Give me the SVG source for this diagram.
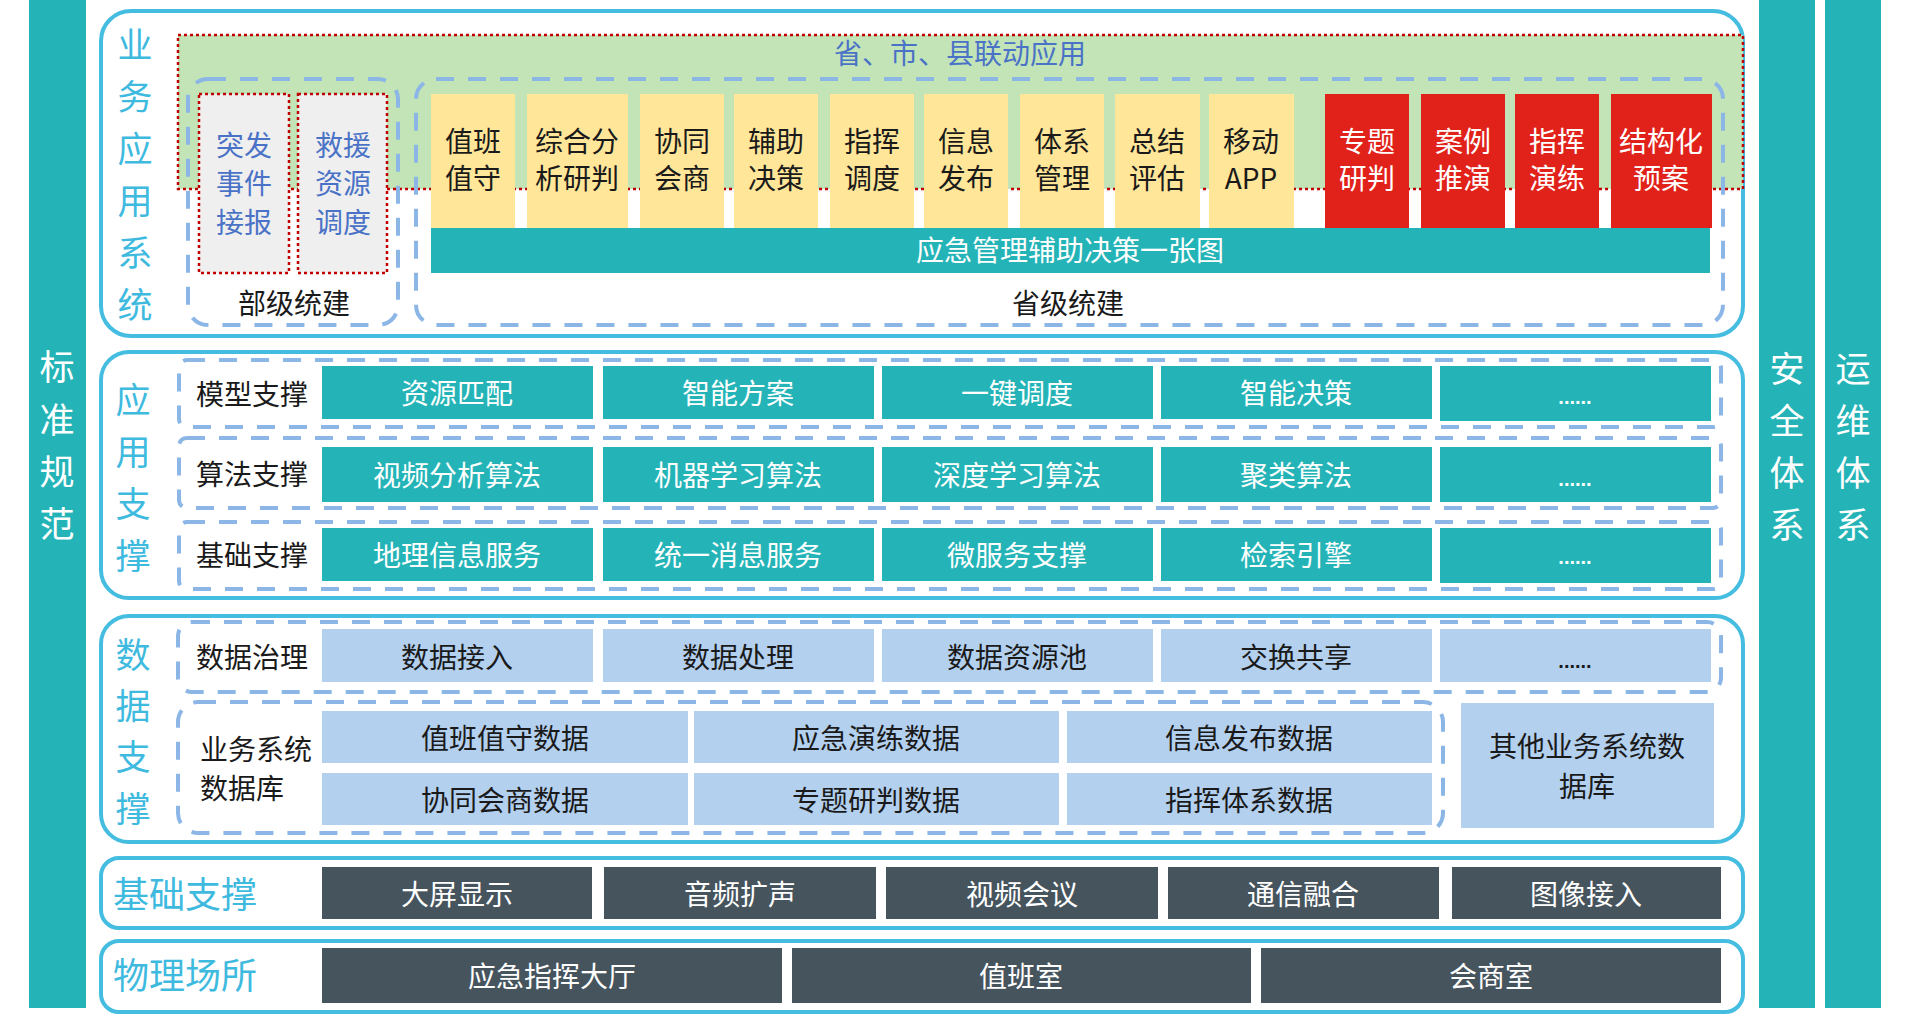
<svg xmlns="http://www.w3.org/2000/svg" width="1914" height="1026" viewBox="0 0 1914 1026">
<style>
.pn{fill:#fff;stroke:#45bde0;stroke-width:4}
.ds{fill:none;stroke:#8cb6e6;stroke-width:4;stroke-dasharray:18 14}
.rd{stroke:#c00000;stroke-width:2.5;stroke-dasharray:3 3}
.teal{fill:#24b4b7}
.yel{fill:#ffe699}
.red{fill:#e1221b}
.lb{fill:#b3d0ef}
.dk{fill:#46545e}
.gr{fill:#efefef}
.t{font-family:"Noto Sans CJK SC","Noto Sans",sans-serif;text-anchor:middle;dominant-baseline:central;font-size:28px}
.w{fill:#fff}
.k{fill:#1a1a1a}
.c{fill:#3fbadf}
.b{fill:#4a72c6}
.v{font-size:35px}
.h{font-size:36px}
.dot{font-family:"Liberation Sans",sans-serif;font-size:20px;text-anchor:middle;font-weight:bold}
</style>
<rect width="1914" height="1026" fill="#fff"/>

<g id="side-standard">
<rect class="teal" x="29" y="0" width="57" height="1008"/>
<text class="t w v"><tspan x="57" y="364">标</tspan><tspan x="57" y="417">准</tspan><tspan x="57" y="469">规</tspan><tspan x="57" y="521">范</tspan></text>
</g>
<g id="side-security">
<rect class="teal" x="1759" y="0" width="56" height="1008"/>
<text class="t w v"><tspan x="1787" y="366">安</tspan><tspan x="1787" y="418">全</tspan><tspan x="1787" y="470">体</tspan><tspan x="1787" y="522">系</tspan></text>
</g>
<g id="side-ops">
<rect class="teal" x="1825" y="0" width="56" height="1008"/>
<text class="t w v"><tspan x="1853" y="366">运</tspan><tspan x="1853" y="418">维</tspan><tspan x="1853" y="470">体</tspan><tspan x="1853" y="522">系</tspan></text>
</g>

<g id="layer-business">
<rect class="pn" x="101" y="11" width="1642" height="325" rx="30"/>
<text class="t c v"><tspan x="135" y="42">业</tspan><tspan x="135" y="94">务</tspan><tspan x="135" y="146">应</tspan><tspan x="135" y="198">用</tspan><tspan x="135" y="250">系</tspan><tspan x="135" y="302">统</tspan></text>
<rect x="178" y="35" width="1565" height="154" fill="#c3e4b7" class="rd"/>
<text class="t b" x="960" y="52">省、市、县联动应用</text>
<rect class="ds" x="188" y="79" width="210" height="246" rx="20"/>
<rect class="ds" x="416" y="79" width="1307" height="246" rx="20"/>
<g id="n-tufa"><rect class="gr rd" x="199" y="94" width="90" height="179"/><text class="t b"><tspan x="244" y="144">突发</tspan><tspan x="244" y="182">事件</tspan><tspan x="244" y="221">接报</tspan></text></g>
<g id="n-jiuyuan"><rect class="gr rd" x="298" y="94" width="89" height="179"/><text class="t b"><tspan x="343" y="144">救援</tspan><tspan x="343" y="182">资源</tspan><tspan x="343" y="221">调度</tspan></text></g>
<text class="t k" x="294" y="302">部级统建</text>
<g id="n-zhiban"><rect class="yel" x="431" y="94" width="84" height="134"/><text class="t k"><tspan x="473" y="140">值班</tspan><tspan x="473" y="177">值守</tspan></text></g>
<g id="n-zonghe"><rect class="yel" x="527" y="94" width="101" height="134"/><text class="t k"><tspan x="577" y="140">综合分</tspan><tspan x="577" y="177">析研判</tspan></text></g>
<g id="n-xietong"><rect class="yel" x="640" y="94" width="84" height="134"/><text class="t k"><tspan x="682" y="140">协同</tspan><tspan x="682" y="177">会商</tspan></text></g>
<g id="n-fuzhu"><rect class="yel" x="734" y="94" width="84" height="134"/><text class="t k"><tspan x="776" y="140">辅助</tspan><tspan x="776" y="177">决策</tspan></text></g>
<g id="n-zhihui"><rect class="yel" x="830" y="94" width="84" height="134"/><text class="t k"><tspan x="872" y="140">指挥</tspan><tspan x="872" y="177">调度</tspan></text></g>
<g id="n-xinxi"><rect class="yel" x="924" y="94" width="84" height="134"/><text class="t k"><tspan x="966" y="140">信息</tspan><tspan x="966" y="177">发布</tspan></text></g>
<g id="n-tixi"><rect class="yel" x="1020" y="94" width="84" height="134"/><text class="t k"><tspan x="1062" y="140">体系</tspan><tspan x="1062" y="177">管理</tspan></text></g>
<g id="n-zongjie"><rect class="yel" x="1115" y="94" width="85" height="134"/><text class="t k"><tspan x="1157" y="140">总结</tspan><tspan x="1157" y="177">评估</tspan></text></g>
<g id="n-app"><rect class="yel" x="1209" y="94" width="85" height="134"/><text class="t k"><tspan x="1251" y="140">移动</tspan><tspan x="1251" y="177">APP</tspan></text></g>
<g id="n-zhuanti"><rect class="red" x="1325" y="94" width="84" height="134"/><text class="t w"><tspan x="1367" y="140">专题</tspan><tspan x="1367" y="177">研判</tspan></text></g>
<g id="n-anli"><rect class="red" x="1421" y="94" width="84" height="134"/><text class="t w"><tspan x="1463" y="140">案例</tspan><tspan x="1463" y="177">推演</tspan></text></g>
<g id="n-yanlian"><rect class="red" x="1515" y="94" width="84" height="134"/><text class="t w"><tspan x="1557" y="140">指挥</tspan><tspan x="1557" y="177">演练</tspan></text></g>
<g id="n-yuan"><rect class="red" x="1611" y="94" width="101" height="134"/><text class="t w"><tspan x="1661" y="140">结构化</tspan><tspan x="1661" y="177">预案</tspan></text></g>
<g id="n-map"><rect class="teal" x="431" y="228" width="1279" height="45"/><text class="t w" x="1070" y="249">应急管理辅助决策一张图</text></g>
<text class="t k" x="1068" y="302">省级统建</text>
</g>

<g id="layer-appsupport">
<rect class="pn" x="101" y="352" width="1642" height="246" rx="28"/>
<text class="t c v"><tspan x="133" y="397">应</tspan><tspan x="133" y="449">用</tspan><tspan x="133" y="501">支</tspan><tspan x="133" y="553">撑</tspan></text>
<rect class="ds" x="179" y="360" width="1542" height="67" rx="8"/>
<rect class="ds" x="179" y="438" width="1542" height="70" rx="8"/>
<rect class="ds" x="179" y="522" width="1542" height="67" rx="8"/>
<text class="t k" x="252" y="393">模型支撑</text>
<text class="t k" x="252" y="473">算法支撑</text>
<text class="t k" x="252" y="554">基础支撑</text>
<g id="row-model">
<rect class="teal" x="322" y="366" width="271" height="53"/><text class="t w" x="457" y="392">资源匹配</text>
<rect class="teal" x="603" y="366" width="271" height="53"/><text class="t w" x="738" y="392">智能方案</text>
<rect class="teal" x="882" y="366" width="271" height="53"/><text class="t w" x="1017" y="392">一键调度</text>
<rect class="teal" x="1161" y="366" width="271" height="53"/><text class="t w" x="1296" y="392">智能决策</text>
<rect class="teal" x="1440" y="366" width="271" height="55"/><text class="dot w" x="1575" y="404">......</text>
</g>
<g id="row-algo">
<rect class="teal" x="322" y="447" width="271" height="55"/><text class="t w" x="457" y="474">视频分析算法</text>
<rect class="teal" x="603" y="447" width="271" height="55"/><text class="t w" x="738" y="474">机器学习算法</text>
<rect class="teal" x="882" y="447" width="271" height="55"/><text class="t w" x="1017" y="474">深度学习算法</text>
<rect class="teal" x="1161" y="447" width="271" height="55"/><text class="t w" x="1296" y="474">聚类算法</text>
<rect class="teal" x="1440" y="447" width="271" height="55"/><text class="dot w" x="1575" y="486">......</text>
</g>
<g id="row-base">
<rect class="teal" x="322" y="528" width="271" height="53"/><text class="t w" x="457" y="554">地理信息服务</text>
<rect class="teal" x="603" y="528" width="271" height="53"/><text class="t w" x="738" y="554">统一消息服务</text>
<rect class="teal" x="882" y="528" width="271" height="53"/><text class="t w" x="1017" y="554">微服务支撑</text>
<rect class="teal" x="1161" y="528" width="271" height="53"/><text class="t w" x="1296" y="554">检索引擎</text>
<rect class="teal" x="1440" y="528" width="271" height="55"/><text class="dot w" x="1575" y="564">......</text>
</g>
</g>

<g id="layer-data">
<rect class="pn" x="101" y="616" width="1642" height="226" rx="28"/>
<text class="t c v"><tspan x="133" y="652">数</tspan><tspan x="133" y="703">据</tspan><tspan x="133" y="754">支</tspan><tspan x="133" y="806">撑</tspan></text>
<rect class="ds" x="178" y="622" width="1543" height="70" rx="14"/>
<text class="t k" x="252" y="656">数据治理</text>
<rect class="lb" x="322" y="629" width="271" height="53"/><text class="t k" x="457" y="656">数据接入</text>
<rect class="lb" x="603" y="629" width="271" height="53"/><text class="t k" x="738" y="656">数据处理</text>
<rect class="lb" x="882" y="629" width="271" height="53"/><text class="t k" x="1017" y="656">数据资源池</text>
<rect class="lb" x="1161" y="629" width="271" height="53"/><text class="t k" x="1296" y="656">交换共享</text>
<rect class="lb" x="1440" y="629" width="271" height="53"/><text class="dot k" x="1575" y="668">......</text>
<rect class="ds" x="178" y="702" width="1265" height="131" rx="20"/>
<text class="t k" style="text-anchor:start"><tspan x="200" y="748">业务系统</tspan><tspan x="200" y="787">数据库</tspan></text>
<rect class="lb" x="322" y="711" width="366" height="52"/><text class="t k" x="505" y="737">值班值守数据</text>
<rect class="lb" x="694" y="711" width="365" height="52"/><text class="t k" x="876" y="737">应急演练数据</text>
<rect class="lb" x="1067" y="711" width="365" height="52"/><text class="t k" x="1249" y="737">信息发布数据</text>
<rect class="lb" x="322" y="773" width="366" height="52"/><text class="t k" x="505" y="799">协同会商数据</text>
<rect class="lb" x="694" y="773" width="365" height="52"/><text class="t k" x="876" y="799">专题研判数据</text>
<rect class="lb" x="1067" y="773" width="365" height="52"/><text class="t k" x="1249" y="799">指挥体系数据</text>
<rect class="lb" x="1461" y="703" width="253" height="125"/><text class="t k"><tspan x="1587" y="745">其他业务系统数</tspan><tspan x="1587" y="785">据库</tspan></text>
</g>

<g id="layer-infra">
<rect class="pn" x="101" y="858" width="1642" height="70" rx="18"/>
<text class="t c h" x="185" y="892">基础支撑</text>
<rect class="dk" x="322" y="867" width="270" height="52"/><text class="t w" x="457" y="893">大屏显示</text>
<rect class="dk" x="604" y="867" width="272" height="52"/><text class="t w" x="740" y="893">音频扩声</text>
<rect class="dk" x="886" y="867" width="272" height="52"/><text class="t w" x="1022" y="893">视频会议</text>
<rect class="dk" x="1168" y="867" width="271" height="52"/><text class="t w" x="1303" y="893">通信融合</text>
<rect class="dk" x="1452" y="867" width="269" height="52"/><text class="t w" x="1586" y="893">图像接入</text>
</g>

<g id="layer-place">
<rect class="pn" x="101" y="941" width="1642" height="71" rx="18"/>
<text class="t c h" x="185" y="973">物理场所</text>
<rect class="dk" x="322" y="948" width="460" height="55"/><text class="t w" x="552" y="975">应急指挥大厅</text>
<rect class="dk" x="792" y="948" width="459" height="55"/><text class="t w" x="1021" y="975">值班室</text>
<rect class="dk" x="1261" y="948" width="460" height="55"/><text class="t w" x="1491" y="975">会商室</text>
</g>

<g id="connectors"></g>
</svg>
